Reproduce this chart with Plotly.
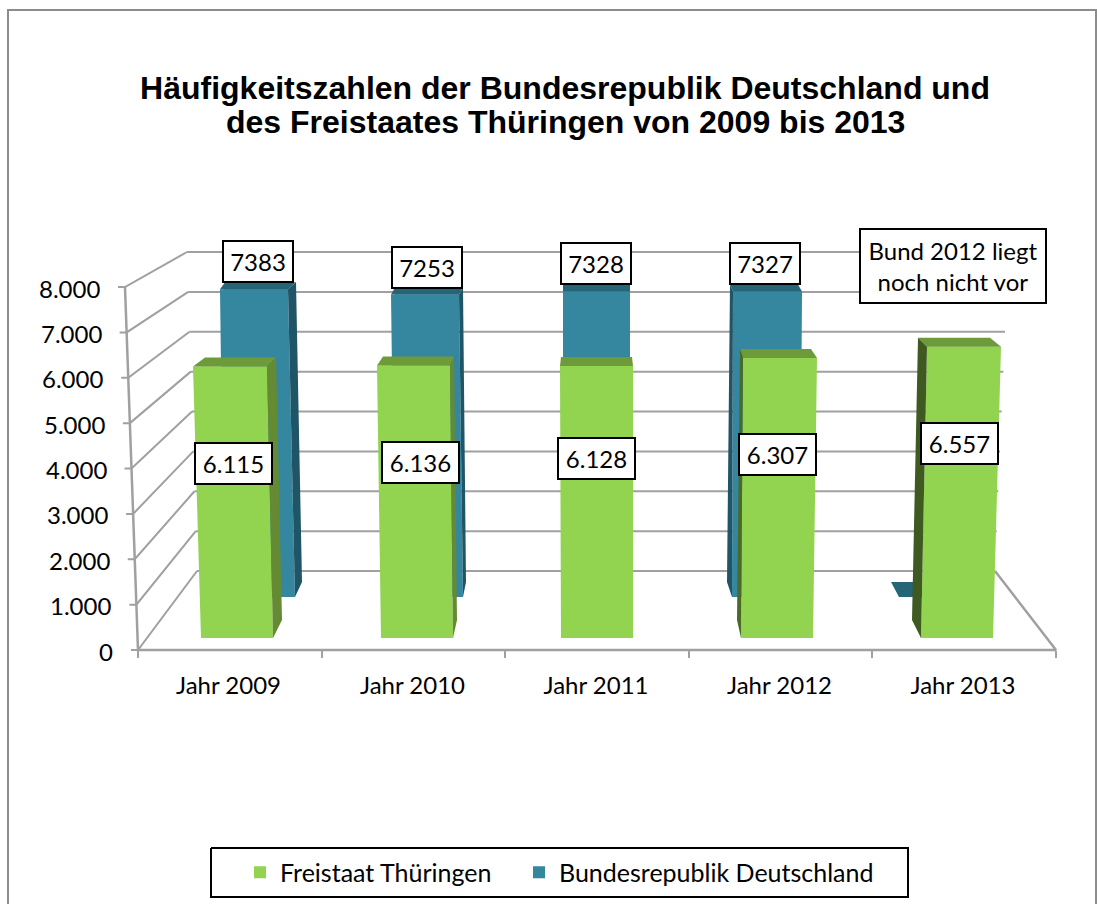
import plotly.graph_objects as go

# ---------- data ----------
categories = ["Jahr 2009", "Jahr 2010", "Jahr 2011", "Jahr 2012", "Jahr 2013"]
thueringen = [6115, 6136, 6128, 6307, 6557]
bund = [7383, 7253, 7328, 7327, None]
y_ticks = [0, 1000, 2000, 3000, 4000, 5000, 6000, 7000, 8000]
title_line1 = "Häufigkeitszahlen der Bundesrepublik Deutschland und"
title_line2 = "des Freistaates Thüringen von 2009 bis 2013"
note_text = "Bund 2012 liegt<br>noch nicht vor"

# ---------- page geometry (pixels) ----------
W, H = 1097, 904
GREEN_BASE, GREEN_SCALE, GREEN_DEPTH, GREEN_LOW = 638, 0.0444, 9, 18
BLUE_BASE, BLUE_SCALE, BLUE_DEPTH, BLUE_LOW = 597, 0.0417, 7, 15
# front face: top-left, top-right, bottom-left, bottom-right
green_front = [(193, 267, 201, 273), (377, 450, 381, 453), (560, 633, 561, 633),
               (743, 817, 741, 813), (927, 1001, 921, 993)]
# back edge of the top face: left, right
green_back = [(205, 276), (383, 454), (561, 632), (740, 811), (918, 990)]
# side face: top x, bottom x at the far end
green_side = [(276, 282, "r"), (454, 457, "r"), None, (740, 737, "l"), (918, 912, "l")]
green_side_col = ["#658A34", "#658A34", None, "#4A6A27", "#3F5A20"]

blue_front = [(220, 288, 224, 295), (391, 459, 395, 463), (563, 630, 563, 630),
              (733, 802, 732, 800), (899, 925, 899, 925)]
blue_back = [(225, 296), (395, 463), (563, 630), (730, 798), (891, 920)]
blue_side = [(296, 302, "r"), (463, 466, "r"), None, (730, 727, "l"), None]

green_label_pos = [(233, 463.5), (420.7, 462.7), (596, 458.5), (777, 454.5), (959, 443.5)]
blue_label_pos = [(257.5, 262), (426.5, 267), (596, 263.5), (765.5, 263.5)]
note_pos = (953, 266)

GREEN, GREEN_TOP = "#92D350", "#6E9B3A"
BLUE, BLUE_TOP, BLUE_SIDE = "#35879F", "#266478", "#1F5566"
GRID, BORDER = "#A0A0A0", "#8C8C8C"
FONT = "Lato, Carlito, sans-serif"
TSIZE = 24


def front_x(v): return 138 - 13 * v / 8000
def front_y(v): return 650 - 363 * v / 8000
def back_lx(v): return 197 - 10 * v / 8000
def back_rx(v): return 995 + 10 * v / 6000
def back_y(v): return 571 - 319 * v / 8000
def fmt(v): return f"{v:,}".replace(",", ".")
def y_range(base, scale): return [(base - H) / scale, base / scale]


fig = go.Figure()


def decor(xs, ys, color=GRID, width=2):
    fig.add_trace(go.Scatter(x=xs, y=ys, mode="lines", showlegend=False, hoverinfo="skip",
                             line=dict(color=color, width=width), xaxis="x", yaxis="y"))


def poly(xs, ys, color, xa, ya):
    fig.add_trace(go.Scatter(x=xs + xs[:1], y=ys + ys[:1], mode="lines", fill="toself",
                             fillcolor=color, line=dict(width=0), showlegend=False,
                             hoverinfo="skip", xaxis=xa, yaxis=ya))


# outer frame
decor([8, 8, 1096, 1096], [H, 10, 10, H], BORDER, 2)
# back wall grid, side wall lines, axis
for v in y_ticks:
    decor([back_lx(v), back_rx(v)], [back_y(v)] * 2)
    decor([front_x(v) - 7, front_x(v), back_lx(v)], [front_y(v), front_y(v), back_y(v)])
decor([front_x(8000), front_x(0), 1056, back_rx(0)],
      [front_y(8000), front_y(0), front_y(0), back_y(0)], GRID, 2.5)
# legend frame
decor([211, 908, 908, 211, 211], [848, 848, 897, 897, 848], "black", 2)


def series(values, name, legend_id, color, top, front, back, side, side_cols, base, scale, depth, low, xa, ya):
    bx, bw, by = [], [], []
    for i, v in enumerate(values):
        tl, tr, bl, br = front[i]
        left, right = max(tl, bl), min(tr, br)
        bx.append((left + right) / 2)
        bw.append(right - left)
        by.append(v)
    fig.add_trace(go.Bar(x=bx, y=by, width=bw, name=name, legend=legend_id,
                         marker=dict(color=color, line=dict(width=0)),
                         hovertext=categories, xaxis=xa, yaxis=ya))
    for i, v in enumerate(values):
        tl, tr, bl, br = front[i]
        h = v if v is not None else 0
        # a missing value leaves only the floor of the bar, which reaches further back
        d = (depth if v is not None else low) / scale
        if v is not None:
            poly([tl, tr, br, bl], [h, h, 0, 0], color, xa, ya)
        lb, rb = back[i]
        poly([tl, tr, rb, lb], [h, h, h + d, h + d], top, xa, ya)
        if side[i]:
            t, b, where = side[i]
            fx_t, fx_b = (tr, br) if where == "r" else (tl, bl)
            poly([fx_t, t, b, fx_b], [h, h + d, low / scale, 0], side_cols[i], xa, ya)


series(bund, "Bundesrepublik Deutschland", "legend2", BLUE, BLUE_TOP, blue_front, blue_back, blue_side,
       [BLUE_SIDE] * 5, BLUE_BASE, BLUE_SCALE, BLUE_DEPTH, BLUE_LOW, "x2", "y2")
series(thueringen, "Freistaat Thüringen", "legend", GREEN, GREEN_TOP, green_front, green_back, green_side,
       green_side_col, GREEN_BASE, GREEN_SCALE, GREEN_DEPTH, GREEN_LOW, "x3", "y3")


def box(text, pos, w, h):
    fig.add_annotation(x=pos[0] / W, y=1 - pos[1] / H, xref="paper", yref="paper", text=text,
                       showarrow=False, xanchor="center", yanchor="middle", width=w, height=h,
                       align="center", valign="middle", bgcolor="white", bordercolor="black",
                       borderwidth=2, borderpad=0, font=dict(family=FONT, size=TSIZE, color="black"))


for v, p in zip(thueringen, green_label_pos):
    box(fmt(v), p, 75, 39)
for v, p in zip(bund, blue_label_pos):
    box(str(v), p, 68, 39)
box(note_text, note_pos, 184, 72)

for v in y_ticks:
    fig.add_annotation(x=(front_x(v) - 23) / W, y=1 - (front_y(v) + 1) / H, xref="paper", yref="paper",
                       text=fmt(v), showarrow=False, xanchor="right", yanchor="middle",
                       font=dict(family=FONT, size=TSIZE, color="black"))

TITLE_FONT = dict(family="Liberation Sans, Arial, sans-serif", size=32, color="black", weight="bold")
fig.add_annotation(x=565 / W, y=1 - 122.5 / H, xref="paper", yref="paper", text=title_line2,
                   showarrow=False, xanchor="center", yanchor="middle", font=TITLE_FONT)

hidden = dict(visible=False, range=[0, W], domain=[0, 1])
legend_base = dict(orientation="h", xanchor="left", yanchor="middle", y=1 - 872.5 / H,
                   bgcolor="rgba(0,0,0,0)", borderwidth=0, itemclick=False, itemdoubleclick=False,
                   font=dict(family=FONT, size=25, color="black"))
fig.update_layout(
    width=W, height=H, margin=dict(l=0, r=0, t=0, b=0), autosize=False,
    paper_bgcolor="white", plot_bgcolor="white", barmode="overlay",
    title=dict(text=title_line1, x=565 / W, xanchor="center", y=1 - 87.5 / H, yanchor="middle",
               font=TITLE_FONT),
    xaxis=dict(range=[0, W], domain=[0, 1], anchor="free", position=1 - 650 / H,
               tickmode="array", tickvals=[228.5, 412.5, 596, 779.5, 963], ticktext=categories,
               ticks="", showline=False, showgrid=False, zeroline=False,
               ticklabelstandoff=19, tickfont=dict(family=FONT, size=TSIZE, color="black"),
               minor=dict(ticks="outside", ticklen=7, tickwidth=2, tickcolor=GRID,
                          tick0=138, dtick=183.6, showgrid=False)),
    yaxis=dict(visible=False, range=[H, 0], domain=[0, 1], anchor="x"),
    xaxis2=dict(hidden, overlaying="x", anchor="y2"),
    yaxis2=dict(visible=False, range=y_range(BLUE_BASE, BLUE_SCALE), overlaying="y", anchor="x2"),
    xaxis3=dict(hidden, overlaying="x", anchor="y3"),
    yaxis3=dict(visible=False, range=y_range(GREEN_BASE, GREEN_SCALE), overlaying="y", anchor="x3"),
    legend=dict(legend_base, x=240 / W),
    legend2=dict(legend_base, x=519 / W),
)
fig.write_html("out.html", config={"displayModeBar": False},
               post_script="document.body.style.margin='0';document.documentElement.style.overflow='hidden';")
